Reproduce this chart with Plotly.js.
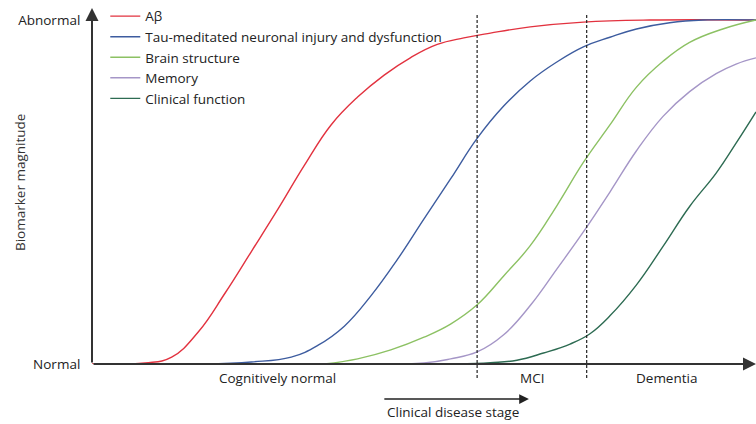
<!DOCTYPE html>
<html>
<head>
<meta charset="utf-8">
<script src="https://cdn.plot.ly/plotly-3.0.1.min.js"></script>
<style>html,body{margin:0;padding:0;background:#fff;}#chart{width:756px;height:424px;}</style>
</head>
<body>
<div id="chart"></div>
<script>
// Clinical disease time (0–100) and biomarker magnitude (0 = normal, 100 = abnormal)
const seriesNames = ["Aβ", "Tau-meditated neuronal injury and dysfunction", "Brain structure", "Memory", "Clinical function"];
const seriesColors = ["#e2323f", "#3d5c9f", "#8cc163", "#a596c7", "#2d6b52"];

const abetaX = [0, 8, 12, 16, 20, 24, 28, 32, 36, 40, 44, 48, 52, 56, 60, 66, 74, 84, 100];
const abetaY = [0, 0.3, 2.0, 9.3, 20.5, 32.7, 45, 57.8, 69.5, 77.6, 84, 89.1, 92.9, 94.8, 96.2, 98, 99.4, 100, 100];

const tauX = [17, 24, 30, 34, 38, 42, 46, 50, 54, 58, 62, 66, 70, 74, 78, 82, 87, 92, 100];
const tauY = [0, 0.6, 2.0, 5.4, 11, 19.8, 30.4, 42.2, 53.8, 65.6, 75, 82.3, 87.8, 92.2, 95, 97.4, 99.2, 100, 100];

const structX = [35, 40, 45, 50, 54, 58, 62, 66, 70, 74, 78, 82, 86, 90, 95, 100];
const structY = [0, 1.5, 4.1, 7.8, 11.6, 17.2, 25.6, 34.4, 46, 58.6, 69.5, 80.5, 88, 93.5, 97.4, 100];

const memoryX = [41, 50, 54, 58, 62, 66, 70, 74, 78, 82, 86, 90, 94, 97, 100];
const memoryY = [0, 0.3, 1.5, 3.5, 8.5, 17, 27.6, 38.4, 50, 62, 72, 79.2, 84.4, 87.2, 89];

const clinicalX = [55, 60, 64, 68, 72, 75, 78, 82, 86, 90, 94, 97, 100];
const clinicalY = [0, 0.4, 1.1, 3.2, 5.8, 8.8, 14, 23, 34.2, 45.8, 55.5, 64.2, 73.3];

const stageBoundaries = [58.0, 74.5];
const stageLabels = ["Cognitively normal", "MCI", "Dementia"];
const stageCenters = [28.0, 66.3, 86.5];
const levelTicks = [0, 100];
const levelLabels = ["Normal", "Abnormal"];

const xs = [abetaX, tauX, structX, memoryX, clinicalX];
const ys = [abetaY, tauY, structY, memoryY, clinicalY];

const FONT = "Open Sans, Liberation Sans, Arial, sans-serif";
const traces = seriesNames.map((n, i) => ({
  type: "scatter", mode: "lines", name: n,
  x: xs[i], y: ys[i],
  line: {color: seriesColors[i], width: 1.4, shape: "spline", smoothing: 1.2},
  cliponaxis: false, hoverinfo: "skip"
}));

const yTop = 103.5;
// paper y for a pixel row: plot area spans rows 8..364
const py = r => (364 - r) / 356;

const shapes = stageBoundaries.map(b => ({
  type: "line", xref: "x", yref: "paper", x0: b, x1: b, y0: py(378), y1: py(15),
  line: {color: "#222", width: 1.2, dash: "3px,2px"}
}));

const annotations = [
  {x: 0, y: yTop, ax: 0, ay: 0, xref: "x", yref: "y", axref: "x", ayref: "y", text: "", showarrow: true,
   arrowhead: 2, arrowsize: 1.3, arrowwidth: 2, arrowcolor: "#333", standoff: 0, startstandoff: 0},
  {x: 100, y: 0, ax: 0, ay: 0, xref: "x", yref: "y", axref: "x", ayref: "y", text: "", showarrow: true,
   arrowhead: 2, arrowsize: 1.3, arrowwidth: 2, arrowcolor: "#333", standoff: 0, startstandoff: 0},
  {x: 65.8, y: py(399), ax: 43.8, ay: 0, xref: "x", yref: "paper", axref: "x", ayref: "pixel", text: "", showarrow: true,
   arrowhead: 2, arrowsize: 1.3, arrowwidth: 1.5, arrowcolor: "#222", standoff: 0},
  {x: 54.4, y: py(412), xref: "x", yref: "paper", text: "Clinical disease stage", showarrow: false,
   font: {family: FONT, size: 13.5, color: "#222"}, xanchor: "center", yanchor: "middle"},
  {x: -0.1084, y: py(183), xref: "paper", yref: "paper", text: "Biomarker magnitude", showarrow: false, textangle: -90,
   font: {family: FONT, size: 13.5, color: "#333"}, xanchor: "center", yanchor: "middle"}
].concat(stageLabels.map((s, i) => ({
  x: stageCenters[i], y: py(378), xref: "x", yref: "paper", text: s, showarrow: false,
  font: {family: FONT, size: 13.5, color: "#222"}, xanchor: "center", yanchor: "middle"
})));

const layout = {
  width: 756, height: 424,
  margin: {l: 92, r: 0, t: 8, b: 60},
  paper_bgcolor: "#fff", plot_bgcolor: "#fff",
  font: {family: FONT, size: 13.5, color: "#222"},
  showlegend: true,
  legend: {x: 0.02, y: 1.02, xanchor: "left", yanchor: "top", bgcolor: "rgba(0,0,0,0)",
           font: {family: FONT, size: 13.5, color: "#222"}, tracegroupgap: 0, itemwidth: 30},
  xaxis: {range: [0, 100], showgrid: false, zeroline: false, showline: false, showticklabels: false, ticks: "", fixedrange: true},
  yaxis: {range: [0, yTop], showgrid: false, zeroline: false, showline: false,
          tickvals: levelTicks, ticktext: levelLabels, ticks: "outside", ticklen: 8, tickcolor: "rgba(0,0,0,0)",
          tickfont: {family: FONT, size: 13.5, color: "#222"}},
  shapes: shapes,
  annotations: annotations
};

Plotly.newPlot("chart", traces, layout, {displayModeBar: false, staticPlot: true});
</script>
</body>
</html>
